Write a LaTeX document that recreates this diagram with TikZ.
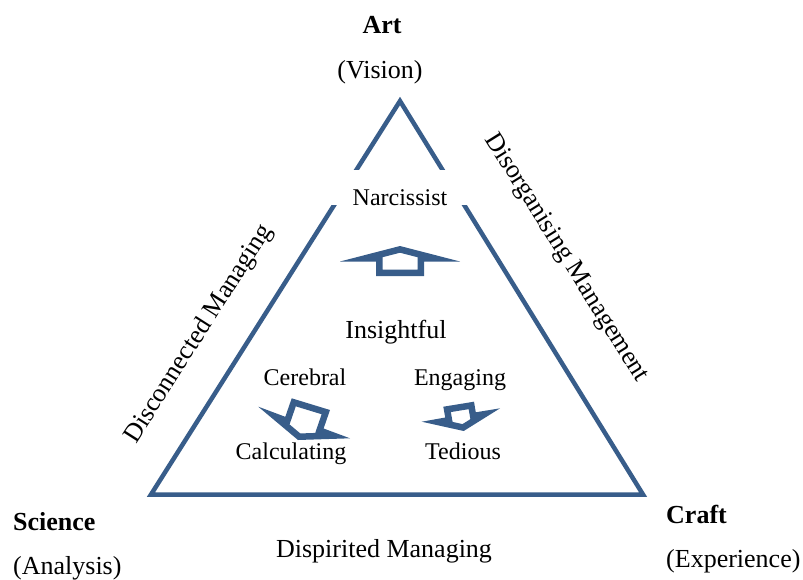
\documentclass[tikz,border=0pt]{standalone}
\usepackage{fontspec}
\setmainfont{Liberation Serif}
\definecolor{tri}{HTML}{385D8A}
\begin{document}
\begin{tikzpicture}[x=1pt,y=-1pt,
  lab/.style={font=\fontsize{26}{30}\selectfont, inner sep=0pt, anchor=base},
  boldlab/.style={font=\fontsize{26}{30}\selectfont\bfseries, inner sep=0pt, anchor=base},
  sm/.style={font=\fontsize{24}{28}\selectfont, inner sep=0pt, anchor=base},
  edge/.style={draw=tri, line width=4.5pt, line join=miter},
  blockarrow/.style={draw=tri, fill=white, line width=13pt, line join=miter}]
\useasboundingbox (0,0) rectangle (803,579);
% triangle
\coordinate (A) at (400,101);
\coordinate (S) at (151,494.5);
\coordinate (C) at (643,494.5);
\draw[edge] (A) -- (S) -- (C) -- cycle;
\node[sm, fill=white, text height=35pt, text depth=0pt, minimum width=142pt] (narc) at (400,205) {Narcissist};
% block arrows (inner stroke via clipping)
\def\arrU{(400,246) -- (460,261.5) -- (424,261.5) -- (424,276) -- (376,276) -- (376,261.5) -- (340,261.5) -- cycle}
\def\arrL{(298,440) -- (258.3,406.7) -- (285.3,416.8) -- (291.7,398.3) -- (330,410) -- (323.6,428.5) -- (350,438.3) -- cycle}
\def\arrR{(463.7,431) -- (421.7,421.7) -- (445.2,417.5) -- (443.3,406.7) -- (474,401.7) -- (475.8,412.3) -- (500,408.3) -- cycle}
\begin{scope}
\clip \arrU;
\draw[blockarrow] \arrU;
\end{scope}
\begin{scope}
\clip \arrL;
\draw[blockarrow] \arrL;
\end{scope}
\begin{scope}
\clip \arrR;
\draw[blockarrow] \arrR;
\end{scope}
% corner labels
\node[boldlab] (art) at (382,33) {Art};
\node[lab] (vision) at (380,78) {(Vision)};
\node[boldlab, anchor=base west] (science) at (13,530) {Science};
\node[lab, anchor=base west] (analysis) at (13,574) {(Analysis)};
\node[boldlab, anchor=base west] (craft) at (666,523) {Craft};
\node[lab, anchor=base west] (experience) at (666,567) {(Experience)};
% side labels
\node[lab] (dispirited) at (384,557) {Dispirited Managing};
\node[lab, anchor=center, rotate=57.5] (disconnected) at (199,334) {Disconnected Managing};
\node[lab, anchor=center, rotate=-58] (disorganising) at (566,258) {Disorganising Management};
% inner labels
\node[lab] (insightful) at (396,338) {Insightful};
\node[sm] (cerebral) at (305,385) {Cerebral};
\node[sm] (engaging) at (460,385) {Engaging};
\node[sm] (calculating) at (291,459) {Calculating};
\node[sm] (tedious) at (463,459) {Tedious};
\end{tikzpicture}
\end{document}
